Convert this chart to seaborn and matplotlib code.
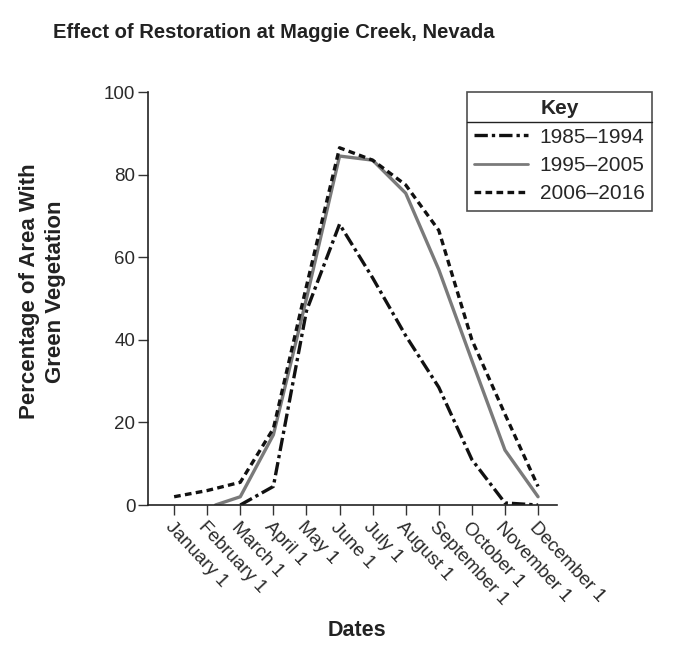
import pandas as pd
import matplotlib
matplotlib.use("Agg")
import matplotlib.pyplot as plt
import seaborn as sns
from matplotlib.lines import Line2D

months = ["January 1", "February 1", "March 1", "April 1", "May 1", "June 1",
          "July 1", "August 1", "September 1", "October 1", "November 1", "December 1"]

# month index positions (0 = January 1) and % green area for each period
x_1985 = [2, 3, 4, 5, 6, 7, 8, 9, 10, 11]
y_1985 = [0, 4.5, 47, 68, 55, 41, 28.5, 11, 0.5, 0]

x_1995 = [1.25, 2, 3, 4, 5, 6, 7, 8, 9, 10, 11]
y_1995 = [0, 2, 17, 50, 84.5, 83.5, 75.5, 57, 35, 13.3, 2]

x_2006 = [0, 1, 2, 3, 4, 5, 6, 7, 8, 9, 10, 11]
y_2006 = [2, 3.5, 5.5, 18.5, 53, 86.5, 83.5, 77.5, 66.5, 40, 22, 4.5]

periods = ["1985\u20131994", "1995\u20132005", "2006\u20132016"]

df = pd.concat([
    pd.DataFrame({"date": x_1985, "pct": y_1985, "Key": periods[0]}),
    pd.DataFrame({"date": x_1995, "pct": y_1995, "Key": periods[1]}),
    pd.DataFrame({"date": x_2006, "pct": y_2006, "Key": periods[2]}),
])

sns.set_style("ticks")
plt.rcParams["font.family"] = ["Liberation Sans", "DejaVu Sans"]

fig = plt.figure(figsize=(6.77, 6.55), dpi=100)
ax = fig.add_axes([0.2186, 0.229, 0.604, 0.6305])

palette = {periods[0]: "#111111", periods[1]: "#7a7a7a", periods[2]: "#111111"}
dashes = {periods[0]: (4, 1.2, 1, 1.2), periods[1]: "", periods[2]: (2, 1.3)}

sns.lineplot(data=df, x="date", y="pct", hue="Key", style="Key",
             palette=palette, dashes=dashes, ax=ax, linewidth=2.4,
             estimator=None, sort=True)

# thinner gray line
for line in ax.get_lines():
    if line.get_label() == periods[1]:
        line.set_linewidth(2.0)

ax.set_xlim(-0.79, 11.57)
ax.set_ylim(0, 100)
ax.set_yticks([0, 20, 40, 60, 80, 100])
ax.set_xticks(range(len(months)))
ax.set_xticklabels(months, rotation=-47, ha="left", va="top",
                   rotation_mode="anchor", fontsize=13.5, color="#2a2a2a")
ax.tick_params(axis="y", labelsize=13.5, labelcolor="#2a2a2a", length=7, width=1, color="#333333", pad=2)
ax.tick_params(axis="x", length=7, width=1, color="#333333", pad=3)
sns.despine(ax=ax)
for sp in ["left", "bottom"]:
    ax.spines[sp].set_color("#222222")
    ax.spines[sp].set_linewidth(1.2)
ax.set_xlabel("")
ax.set_ylabel("")

fig.text(0.405, 0.95, "Effect of Restoration at Maggie Creek, Nevada",
         ha="center", va="center", fontsize=14.5, fontweight="bold", color="#222222")
fig.text(0.063, 0.555, "Percentage of Area With\nGreen Vegetation",
         ha="center", va="center", rotation=90, fontsize=16, fontweight="bold",
         color="#222222", linespacing=1.3)
fig.text(0.527, 0.038, "Dates", ha="center", va="center", fontsize=15.5,
         fontweight="bold", color="#222222")

handles, labels = ax.get_legend_handles_labels()
leg = ax.legend(handles, labels, title="Key", loc="upper right",
                bbox_to_anchor=(0.963, 0.8595), bbox_transform=fig.transFigure,
                borderaxespad=0, fancybox=False, frameon=True, fontsize=15,
                title_fontsize=15, handlelength=2.6, labelspacing=0.45,
                borderpad=0.35, handletextpad=0.55)
leg.get_title().set_fontweight("bold")
leg.get_frame().set_edgecolor("#222222")
leg.get_frame().set_linewidth(1.2)

# separator line under the "Key" title
fig.canvas.draw()
r = fig.canvas.get_renderer()
lb = leg.get_window_extent(r).transformed(fig.transFigure.inverted())
tb = leg.get_title().get_window_extent(r).transformed(fig.transFigure.inverted())
ysep = tb.y0 - 0.006
fig.add_artist(Line2D([lb.x0, lb.x1], [ysep, ysep], transform=fig.transFigure,
                      color="#222222", linewidth=1.0))

fig.savefig("out.png", dpi=100)
